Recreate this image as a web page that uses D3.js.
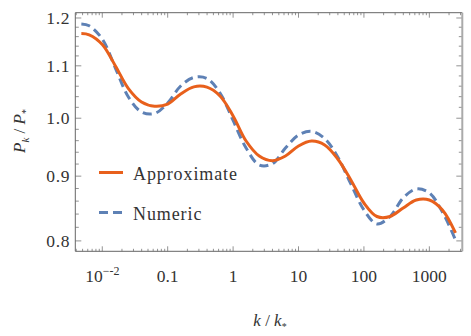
<!DOCTYPE html>
<html>
<head>
<meta charset="utf-8">
<script src="https://cdn.jsdelivr.net/npm/d3@7"></script>
<style>
  body { margin: 0; background: #fff; }
  text { font-family: "Liberation Serif", serif; fill: #333; }
</style>
</head>
<body>
<div id="chart"></div>
<script>
//////////// DATA
var kValues = [0.00479, 0.00631, 0.01, 0.0158, 0.0251, 0.0398, 0.0631, 0.1, 0.158, 0.251,
               0.398, 0.631, 1, 1.58, 2.51, 3.98, 6.31, 10, 15.8, 25.1,
               39.8, 63.1, 100, 158, 251, 398, 631, 1000, 1585, 2512];
var approxValues = [1.1666, 1.1639, 1.1435, 1.1003, 1.0554, 1.0300, 1.0221, 1.0262, 1.0451, 1.0587,
                    1.0581, 1.0413, 1.0041, 0.9594, 0.9336, 0.9257, 0.9336, 0.9507, 0.9592, 0.9525,
                    0.9285, 0.8937, 0.8571, 0.8363, 0.8363, 0.8494, 0.8618, 0.8618, 0.8463, 0.8116];
var numericValues = [1.1870, 1.1831, 1.1550, 1.0961, 1.0394, 1.0114, 1.0087, 1.0281, 1.0604, 1.0769,
                     1.0750, 1.0470, 0.9959, 0.9473, 0.9185, 0.9205, 0.9473, 0.9700, 0.9763, 0.9638,
                     0.9319, 0.8873, 0.8463, 0.8250, 0.8363, 0.8650, 0.8792, 0.8729, 0.8432, 0.8013];
var xTickValues = [0.01, 0.1, 1, 10, 100, 1000];
var xTickLabels = ["10|-2", "0.1", "1", "10", "100", "1000"];
var yTickValues = [0.8, 0.9, 1.0, 1.1, 1.2];
var yTickLabels = ["0.8", "0.9", "1.0", "1.1", "1.2"];
var seriesNames = ["Approximate", "Numeric"];

//////////// LAYOUT
var totalW = 471, totalH = 336;
var leftX = 75.3, rightX = 462.3, topY = 12.7, bottomY = 251.3;
var orange = "#e8601c", blue = "#5e81b5";

var svg = d3.select("#chart").append("svg")
	.attr("width", totalW)
	.attr("height", totalH);

var x = d3.scaleLog().domain([0.00387, 3190]).range([leftX, rightX]);
var y = d3.scaleLog().domain([0.785, 1.2116]).range([bottomY, topY]);

//////////// MINOR TICKS
var xMinor = [];
for (var e = -3; e <= 3; e++) {
	for (var m = 2; m <= 9; m++) {
		var v = m * Math.pow(10, e);
		if (v > x.domain()[0] && v < x.domain()[1]) xMinor.push(v);
	}
}
var yMinor = [];
for (var i = 79; i <= 121; i++) {
	var v = i / 100;
	if (i % 2 == 0 && i % 10 != 0 && v > y.domain()[0] && v < y.domain()[1]) yMinor.push(v);
}

var ticks = svg.append("g").attr("stroke", "#777").attr("stroke-width", 0.8);
// bottom + top
[[bottomY, -1], [topY, 1]].forEach(function(s) {
	ticks.selectAll(null).data(xTickValues).enter().append("line")
		.attr("x1", function(d) { return x(d); }).attr("x2", function(d) { return x(d); })
		.attr("y1", s[0]).attr("y2", s[0] + s[1] * 5);
	ticks.selectAll(null).data(xMinor).enter().append("line")
		.attr("x1", function(d) { return x(d); }).attr("x2", function(d) { return x(d); })
		.attr("y1", s[0]).attr("y2", s[0] + s[1] * 2.5);
});
// left + right
[[leftX, 1], [rightX, -1]].forEach(function(s) {
	ticks.selectAll(null).data(yTickValues).enter().append("line")
		.attr("y1", function(d) { return y(d); }).attr("y2", function(d) { return y(d); })
		.attr("x1", s[0]).attr("x2", s[0] + s[1] * 6);
	ticks.selectAll(null).data(yMinor).enter().append("line")
		.attr("y1", function(d) { return y(d); }).attr("y2", function(d) { return y(d); })
		.attr("x1", s[0]).attr("x2", s[0] + s[1] * 3.5);
});

//////////// FRAME
svg.append("path")
	.attr("d", "M" + rightX + "," + topY + "H" + leftX + "V" + bottomY + "H" + rightX)
	.attr("fill", "none").attr("stroke", "#666").attr("stroke-width", 1);
svg.append("line")
	.attr("x1", rightX).attr("x2", rightX).attr("y1", topY).attr("y2", bottomY)
	.attr("stroke", "#aaa").attr("stroke-width", 2);

//////////// TICK LABELS
var xl = svg.selectAll("xLabel").data(xTickValues).enter().append("text")
	.attr("x", function(d) { return x(d); })
	.attr("y", 282)
	.attr("text-anchor", "middle")
	.style("font-size", "17.5px");
xl.each(function(d, i) {
	var parts = xTickLabels[i].split("|");
	var t = d3.select(this);
	t.append("tspan").text(parts[0]);
	if (parts.length > 1) {
		t.append("tspan").attr("dy", -7).style("font-size", "12px").text("\u2212" + parts[1]);
	}
});

svg.selectAll("yLabel").data(yTickValues).enter().append("text")
	.attr("x", 70)
	.attr("y", function(d) { return y(d) + 6; })
	.attr("text-anchor", "end")
	.style("font-size", "17.5px")
	.style("letter-spacing", "0.6px")
	.text(function(d, i) { return yTickLabels[i]; });

//////////// AXIS TITLES
var xt = svg.append("text")
	.attr("x", 270).attr("y", 326)
	.attr("text-anchor", "middle")
	.style("font-size", "17px");
xt.append("tspan").style("font-style", "italic").text("k");
xt.append("tspan").text(" / ");
xt.append("tspan").style("font-style", "italic").text("k");
xt.append("tspan").attr("dy", 4).style("font-size", "10px").text("*");

var yt = svg.append("text")
	.attr("transform", "translate(25,131) rotate(-90)")
	.attr("text-anchor", "middle")
	.style("font-size", "17px");
yt.append("tspan").style("font-style", "italic").text("P");
yt.append("tspan").attr("dy", 4).style("font-size", "11px").style("font-style", "italic").text("k");
yt.append("tspan").attr("dy", -4).text(" / ");
yt.append("tspan").style("font-style", "italic").text("P");
yt.append("tspan").attr("dy", 4).style("font-size", "10px").text("*");

//////////// CURVES
var line = d3.line()
	.x(function(d) { return x(d[0]); })
	.y(function(d) { return y(d[1]); })
	.curve(d3.curveCatmullRom.alpha(0.5));

svg.append("clipPath").attr("id", "clip").append("rect")
	.attr("x", leftX).attr("y", topY).attr("width", rightX - leftX).attr("height", bottomY - topY);

svg.append("path")
	.datum(d3.zip(kValues, numericValues))
	.attr("clip-path", "url(#clip)")
	.attr("d", line)
	.attr("fill", "none").attr("stroke", blue)
	.attr("stroke-width", 3).attr("stroke-dasharray", "9,5");

svg.append("path")
	.datum(d3.zip(kValues, approxValues))
	.attr("clip-path", "url(#clip)")
	.attr("d", line)
	.attr("fill", "none").attr("stroke", orange)
	.attr("stroke-width", 3);

//////////// LEGEND
var legend = svg.selectAll("legendItem").data(seriesNames).enter().append("g")
	.attr("transform", function(d, i) { return "translate(99," + (172.5 + i * 40) + ")"; });
legend.append("line")
	.attr("x1", 0).attr("x2", 24).attr("y1", 0).attr("y2", 0)
	.attr("stroke", function(d, i) { return i == 0 ? orange : blue; })
	.attr("stroke-width", 3)
	.attr("stroke-dasharray", function(d, i) { return i == 0 ? null : "9,5"; });
legend.append("text")
	.attr("x", 34).attr("y", 7.5)
	.style("font-size", "18px")
	.style("letter-spacing", "0.9px")
	.text(function(d) { return d; });
</script>
</body>
</html>
